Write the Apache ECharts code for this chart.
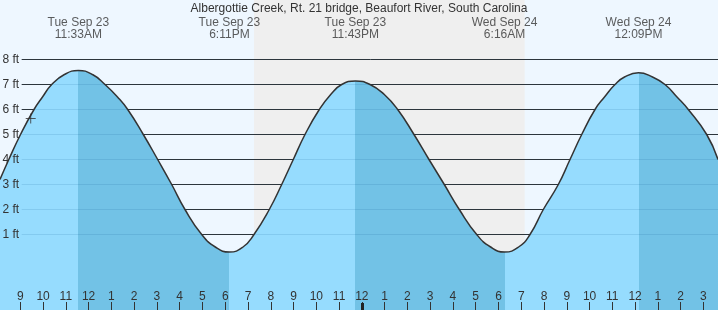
<!DOCTYPE html>
<html><head><meta charset="utf-8">
<script src="https://cdn.jsdelivr.net/npm/echarts@6/dist/echarts.min.js"></script>
<style>html,body{margin:0;padding:0;background:#eef7ff;}#c{width:718px;height:310px;}</style>
</head><body><div id="c"></div>
<script>
// ---- data ----
const titleText = 'Albergottie Creek, Rt. 21 bridge, Beaufort River, South Carolina';
const tideHours = [8.108, 8.495, 9.009, 9.602, 9.975, 10.379, 10.937, 11.55, 12.171, 12.720, 13.269, 13.717, 14.402, 15.034, 15.649, 16.233, 16.967, 17.564, 18.183, 18.781, 19.263, 19.935, 20.480, 20.989, 21.503, 22.131, 22.632, 23.115, 23.717, 24.358, 24.986, 25.574, 26.290, 26.949, 27.621, 28.280, 29.044, 29.655, 30.267, 30.884, 31.385, 31.969, 32.628, 33.142, 33.656, 34.240, 34.657, 35.118, 35.535, 36.15, 36.765, 37.313, 37.841, 38.336, 39.145, 39.641];
const tideFeet = [3.2, 4.0, 5.0, 6.0, 6.5, 7.0, 7.4, 7.56, 7.4, 7.0, 6.5, 6.0, 5.0, 4.0, 3.0, 2.0, 1.0, 0.5, 0.30, 0.5, 1.0, 2.0, 3.0, 4.0, 5.0, 6.0, 6.6, 7.0, 7.14, 7.0, 6.6, 6.0, 5.0, 4.0, 3.0, 2.0, 1.0, 0.5, 0.30, 0.5, 1.0, 2.0, 3.0, 4.0, 5.0, 6.0, 6.5, 7.0, 7.3, 7.47, 7.3, 7.0, 6.5, 6.0, 5.0, 4.0];
const eventHours = [11.55, 18.183, 23.717, 30.267, 36.15];
const eventLabels = ['Tue Sep 23\n11:33AM', 'Tue Sep 23\n6:11PM', 'Tue Sep 23\n11:43PM', 'Wed Sep 24\n6:16AM', 'Wed Sep 24\n12:09PM'];
const sunsetHour = 19.263;
const sunriseHour = 31.152;
const nowHour = 9.457;
const nowFeet = 5.64;
const ftLevels = [1, 2, 3, 4, 5, 6, 7, 8];
const midnightHours = [24];

// ---- layout / style ----
const X_MIN = 8, X_MAX = 40, Y_MIN = -3, Y_MAX = 11;
const labelLevel = 9.24;
const lineStartHour = 9.061;
const DAY = '#eef7ff', NIGHT = '#efefef', WATER = '#96dcfe', WATER_DARK = '#72c2e6';
const TXT = '#333';
const FONT = "'Liberation Sans', Arial, sans-serif";

const bounds = [X_MIN].concat(eventHours, [X_MAX]);
const pieces = [];
for (let i = 0; i < bounds.length - 1; i++) {
  pieces.push({gte: bounds[i], lt: bounds[i + 1], color: i % 2 === 0 ? WATER : WATER_DARK});
}
const tide = tideHours.map((h, i) => [h, tideFeet[i]]);
const gridLines = ftLevels.map(v => ({coords: [[lineStartHour, v], [X_MAX, v]]}));

const chart = echarts.init(document.getElementById('c'), null, {renderer: 'canvas'});
chart.setOption({
  animation: false,
  backgroundColor: DAY,
  title: {text: titleText, left: 'center', top: -2, textStyle: {fontSize: 12, fontWeight: 'normal', color: TXT, fontFamily: FONT}},
  grid: {left: -2.47, right: -8.17, top: -15.5, bottom: -24.5, containLabel: false, outerBoundsMode: 'none'},
  xAxis: [{
    type: 'value', min: X_MIN, max: X_MAX, interval: 1, offset: -24.5, position: 'bottom',
    axisLine: {show: false, onZero: false}, splitLine: {show: false},
    axisTick: {inside: true, length: 8, lineStyle: {color: TXT, width: 1}},
    axisLabel: {inside: true, margin: 7, fontSize: 12, color: TXT, fontFamily: FONT,
      formatter: v => (v < 9 || v > 39) ? '' : String(v % 12 === 0 ? 12 : v % 12)},
    z: 10
  }, {
    type: 'value', min: X_MIN, max: X_MAX, interval: 1, offset: -24.5, position: 'bottom',
    axisLine: {show: false, onZero: false}, splitLine: {show: false}, axisLabel: {show: false},
    axisTick: {inside: true, length: 7, customValues: midnightHours, lineStyle: {color: '#222', width: 3}},
    z: 11
  }],
  yAxis: {
    type: 'value', min: Y_MIN, max: Y_MAX, interval: 1,
    axisLine: {show: false, onZero: false}, axisTick: {show: false}, splitLine: {show: false},
    axisLabel: {inside: true, margin: 5, fontSize: 12, color: TXT, fontFamily: FONT,
      formatter: v => (v >= 1 && v <= 8) ? v + ' ft' : ''},
    z: 10
  },
  visualMap: {type: 'piecewise', show: false, dimension: 0, seriesIndex: 2, pieces: pieces},
  series: [
    {type: 'line', z: 0, data: [[sunsetHour, Y_MAX], [sunriseHour, Y_MAX]], symbol: 'none',
      lineStyle: {width: 0}, areaStyle: {color: NIGHT, opacity: 1, origin: 'start'}, silent: true},
    {type: 'lines', z: 1, coordinateSystem: 'cartesian2d', data: gridLines, silent: true,
      lineStyle: {color: '#333', width: 1, opacity: 1}},
    {type: 'line', z: 2, data: tide, smooth: 0.5, symbol: 'none', silent: true,
      lineStyle: {width: 0, color: 'rgba(0,0,0,0)'}, areaStyle: {opacity: 1, origin: 'start'}},
    {type: 'lines', z: 3, coordinateSystem: 'cartesian2d', data: gridLines, silent: true,
      lineStyle: {color: 'rgba(0,70,130,0.12)', width: 1, opacity: 1}},
    {type: 'line', z: 4, data: tide, smooth: 0.5, symbol: 'none', silent: true,
      lineStyle: {width: 1.5, color: '#333'}},
    {type: 'scatter', z: 5, data: [[nowHour, nowFeet]], symbol: 'path://M5,0L5,10M0,5L10,5', symbolSize: 10,
      itemStyle: {color: 'rgba(0,0,0,0)', borderColor: '#333', borderWidth: 1}, silent: true},
    {type: 'scatter', z: 6, data: eventHours.map((h, i) => ({value: [h, labelLevel], name: eventLabels[i]})),
      symbolSize: 0, silent: true,
      label: {show: true, position: 'inside', formatter: p => p.name, fontSize: 12, lineHeight: 12, color: TXT, fontFamily: FONT, align: 'center'}}
  ]
});
</script></body></html>
